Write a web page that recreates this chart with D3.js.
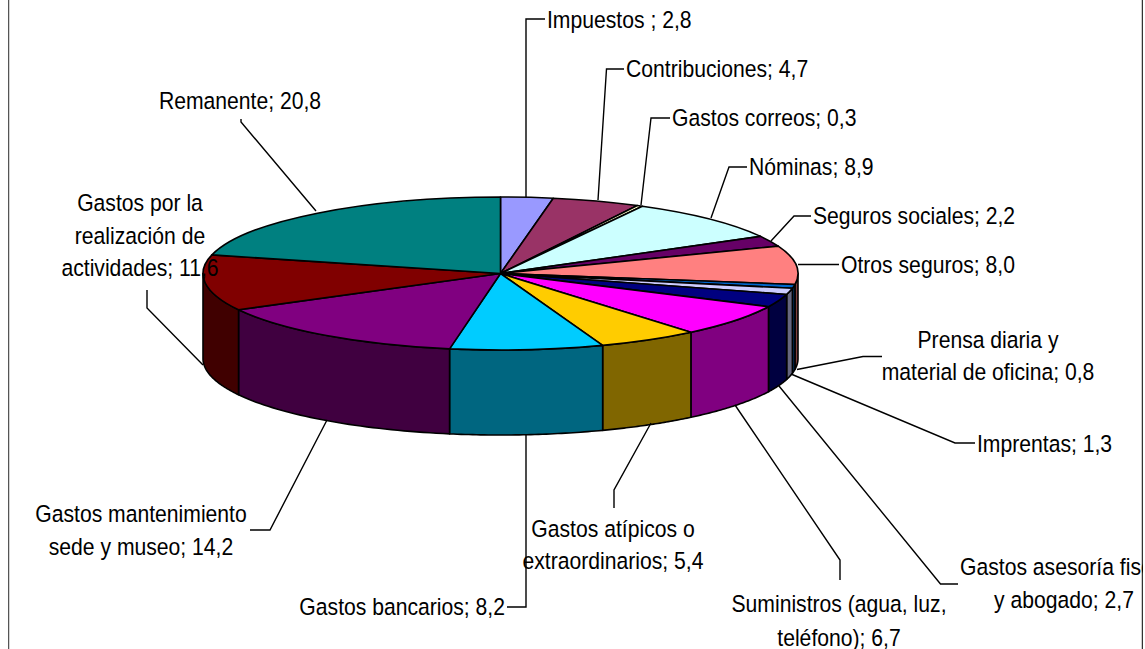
<!DOCTYPE html>
<html><head><meta charset="utf-8">
<script src="https://cdn.jsdelivr.net/npm/d3@7/dist/d3.min.js"></script>
<style>html,body{margin:0;padding:0;background:#fff}svg{display:block}
text{font-family:"Liberation Sans",Arial,sans-serif;font-size:23.5px;fill:#000}</style>
</head><body><svg id="c" width="1145" height="649"></svg>
<script>
const categories=["Impuestos","Contribuciones","Gastos correos","Nóminas","Seguros sociales","Otros seguros","Prensa diaria y material de oficina","Imprentas","Gastos asesoría fiscal y abogado","Suministros (agua, luz, teléfono)","Gastos atípicos o extraordinarios","Gastos bancarios","Gastos mantenimiento sede y museo","Gastos por la realización de actividades","Remanente"];
const values=[2.8,4.7,0.3,8.9,2.2,8.0,0.8,1.3,2.7,6.7,5.4,8.2,14.2,11.6,20.8];
const valueLabels=["2,8","4,7","0,3","8,9","2,2","8,0","0,8","1,3","2,7","6,7","5,4","8,2","14,2","11,6","20,8"];
const colors=["#9999FF","#993366","#FFFFCC","#CCFFFF","#660066","#FF8080","#0066CC","#CCCCFF","#000080","#FF00FF","#FFCC00","#00CCFF","#800080","#800000","#008080"];

// Label layout, separate from the data: text lines, anchor and leader route for each slice
const labelLayout=[
 {lines:["Impuestos ; 2,8"],x:547,y:[20],a:"start",leader:[[526,197],[526,19],[545,19]]},
 {lines:["Contribuciones; 4,7"],x:626,y:[69],a:"start",leader:[[598,200],[606.5,69],[624,69]]},
 {lines:["Gastos correos; 0,3"],x:672,y:[118],a:"start",leader:[[641,205],[651,118],[670,118]]},
 {lines:["Nóminas; 8,9"],x:749,y:[167],a:"start",leader:[[711,218],[729,167],[747,167]]},
 {lines:["Seguros sociales; 2,2"],x:813,y:[216],a:"start",leader:[[771,241],[794,216],[811,216]]},
 {lines:["Otros seguros; 8,0"],x:841,y:[265],a:"start",leader:[[798,264.5],[839,264.5]]},
 {lines:["Prensa diaria y","material de oficina; 0,8"],x:988,y:[340,372],a:"middle",leader:[[797,369.5],[863,356.5],[882,356.5]]},
 {lines:["Imprentas; 1,3"],x:977,y:[444],a:"start",leader:[[791,374],[955,443],[975,443]]},
 {lines:["Gastos asesoría fiscal","y abogado; 2,7"],x:1064,y:[567,600],a:"middle",leader:[[779,386],[940.5,584],[958,584]]},
 {lines:["Suministros (agua, luz,","teléfono); 6,7"],x:839,y:[604,638],a:"middle",leader:[[735,405],[840,560],[840,580]]},
 {lines:["Gastos atípicos o","extraordinarios; 5,4"],x:613,y:[529,561],a:"middle",leader:[[651,423],[614,490],[614,508]]},
 {lines:["Gastos bancarios; 8,2"],x:505,y:[607],a:"end",leader:[[526,434],[526,607],[507,607]]},
 {lines:["Gastos mantenimiento","sede y museo; 14,2"],x:141,y:[514,546.5],a:"middle",leader:[[327,420],[270,530],[250,530]]},
 {lines:["Gastos por la","realización de","actividades; 11,6"],x:140,y:[203,236,268],a:"middle",leader:[[203,365],[147,308],[147,290]]},
 {lines:["Remanente; 20,8"],x:240,y:[101],a:"middle",leader:[[316,211],[241,122],[241,119]]}
];

const W=1145,H=649,cx=500.5,cy=273.5,rx=297.5,ry=76.5,depth=85,textSqueeze=0.9;
const svg=d3.select("#c");
svg.append("defs").append("clipPath").attr("id","frameClip").append("rect").attr("x",8).attr("y",0).attr("width",1135).attr("height",H);

const arcs=d3.pie().sort(null).value(d=>d)(values);
arcs.forEach((d,i)=>d.i=i);

const px=a=>cx+rx*Math.sin(a), py=a=>cy-ry*Math.cos(a);
const wallLine=d3.line();
const g=svg.append("g").attr("clip-path","url(#frameClip)");

// frame
g.append("path").attr("d",d3.line()([[8.5,0],[8.5,H]])).attr("stroke","#555").attr("stroke-width",1.5).attr("fill","none");
g.append("path").attr("d",d3.line()([[1142.5,0],[1142.5,H]])).attr("stroke","#333").attr("stroke-width",1.5).attr("fill","none");

// outer wall of the front half
const front=arcs.map(d=>({i:d.i,a0:Math.max(d.startAngle,Math.PI/2),a1:Math.min(d.endAngle,Math.PI*1.5)})).filter(d=>d.a1>d.a0);
g.selectAll("path.wall").data(front).join("path").attr("class","wall")
 .attr("d",d=>{
   const as=d3.range(0,41).map(k=>d.a0+(d.a1-d.a0)*k/40);
   const top=as.map(a=>[px(a),py(a)]);
   const bot=as.slice().reverse().map(a=>[px(a),py(a)+depth]);
   return wallLine(top.concat(bot))+"Z";
 })
 .attr("fill",d=>{const c=d3.rgb(colors[d.i]);return d3.rgb(c.r*.5,c.g*.5,c.b*.5).formatHex();})
 .attr("stroke","#000").attr("stroke-width",1.6).attr("stroke-linejoin","round");

// top face
const arcGen=d3.arc().innerRadius(0).outerRadius(rx);
g.append("g").attr("transform",`translate(${cx},${cy}) scale(1,${ry/rx})`)
 .selectAll("path").data(arcs).join("path")
 .attr("d",arcGen).attr("fill",d=>colors[d.i])
 .attr("stroke","#000").attr("stroke-width",1.6).attr("vector-effect","non-scaling-stroke").attr("stroke-linejoin","round");

// leader lines
g.selectAll("path.leader").data(labelLayout).join("path").attr("class","leader")
 .attr("d",d=>d3.line()(d.leader)).attr("fill","none").attr("stroke","#000").attr("stroke-width",1.4);

// labels
labelLayout.forEach(l=>{
  const t=g.append("text").attr("text-anchor",l.a).attr("transform",`translate(${l.x},0) scale(${textSqueeze},1)`);
  l.lines.forEach((s,k)=>t.append("tspan").attr("x",0).attr("y",l.y[k]+8.5).text(s));
});
</script></body></html>
